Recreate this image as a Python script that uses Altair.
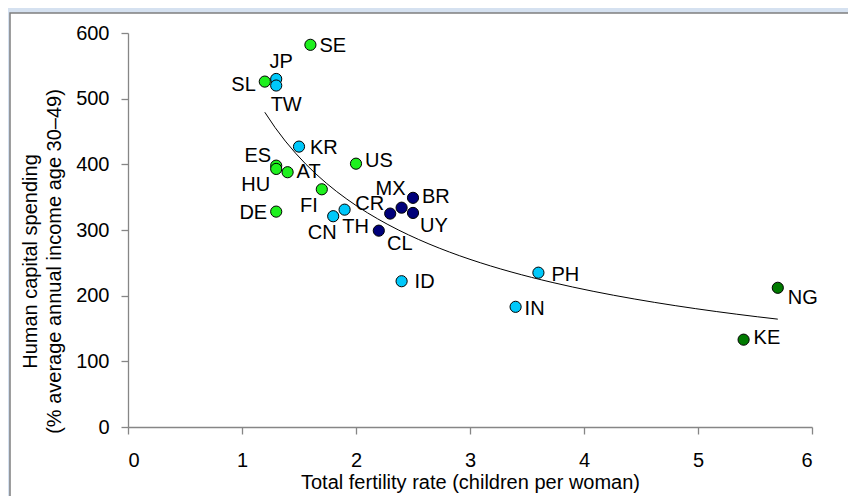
import altair as alt
import pandas as pd

# ---- data ----
codes = ["SE", "JP", "SL", "TW", "KR", "ES", "HU", "AT", "US", "FI", "DE",
         "CN", "TH", "CR", "MX", "BR", "UY", "CL", "ID", "PH", "IN", "NG", "KE"]
fertility = [1.6, 1.3, 1.2, 1.3, 1.5, 1.3, 1.3, 1.4, 2.0, 1.7, 1.3,
             1.8, 1.9, 2.3, 2.4, 2.5, 2.5, 2.2, 2.4, 3.6, 3.4, 5.7, 5.4]
spending = [582, 530, 526, 520, 427, 398, 393, 388, 401, 362, 328,
            321, 331, 325, 334, 349, 326, 299, 222, 235, 183, 212, 133]
groups = ["A", "B", "A", "B", "B", "A", "A", "A", "A", "A", "A",
          "B", "B", "C", "C", "C", "C", "C", "B", "B", "B", "D", "D"]

x_ticks = [0, 1, 2, 3, 4, 5, 6]
y_ticks = [0, 100, 200, 300, 400, 500, 600]

# ---- styling ----
group_domain = ["A", "B", "C", "D"]
group_colors = ["#1ef01e", "#00c8fa", "#00007a", "#007a00"]
FONT = "Liberation Sans"

# label placement: (align, dx, dy) in pixels
label_pos = {
    "SE": ("left", 9, 1), "JP": ("center", 5, -17), "SL": ("right", -9, 3),
    "TW": ("center", 10, 19), "KR": ("left", 11, 1), "ES": ("right", -5, -10),
    "HU": ("right", -6, 16), "AT": ("left", 9, 0), "US": ("left", 9, -3),
    "FI": ("right", -4, 17), "DE": ("right", -9, 1), "CN": ("center", -11, 17),
    "TH": ("center", 11, 17), "CR": ("right", -6, -10), "MX": ("center", -11, -19),
    "BR": ("left", 9, -1), "UY": ("left", 7, 13), "CL": ("center", 21, 13),
    "ID": ("left", 13, 1), "PH": ("left", 13, 2), "IN": ("left", 9, 2),
    "NG": ("left", 10, 10), "KE": ("left", 10, -2),
}

df = pd.DataFrame({"code": codes, "tfr": fertility, "hc": spending, "grp": groups})

W, H = 684, 394

xscale = alt.Scale(domain=[0, 6], nice=False, zero=True)
yscale = alt.Scale(domain=[0, 600], nice=False)

axis_common = dict(
    grid=False, domainColor="#868686", tickColor="#868686", tickSize=7,
    domainWidth=1.3, tickWidth=1.3,
    labelFont=FONT, labelFontSize=20, labelColor="#000000",
    titleFont=FONT, titleFontSize=20, titleFontWeight="normal", titleColor="#000000",
    zindex=1,
)

x_enc = alt.X("tfr:Q", scale=xscale,
              axis=alt.Axis(values=x_ticks, labelPadding=16, titlePadding=2,
                            title="Total fertility rate (children per woman)",
                            **axis_common))
y_enc = alt.Y("hc:Q", scale=yscale,
              axis=alt.Axis(values=y_ticks, labelPadding=12,
                            title=["Human capital spending",
                                   "(% average annual income age 30–49)"],
                            titleAngle=-90, titleAlign="center", titleBaseline="middle",
                            titleX=-98, titleY=228, titleLineHeight=24,
                            **axis_common))

base = alt.Chart(df)

frame = base.mark_rect(fill="white", stroke="#7f7f7f", strokeWidth=1.5).encode(
    x=alt.value(-118), x2=alt.value(W + 60), y=alt.value(-20), y2=alt.value(H + 110)
).transform_filter(alt.datum.code == "SE")

trend = base.transform_regression("tfr", "hc", method="pow").mark_line(
    color="black", strokeWidth=1
).encode(x=x_enc, y=y_enc)

points = base.mark_point(filled=True, shape="circle", size=125, stroke="black",
                         strokeWidth=1, opacity=1).encode(
    x=x_enc, y=y_enc,
    fill=alt.Fill("grp:N", scale=alt.Scale(domain=group_domain, range=group_colors),
                  legend=None),
)

label_layers = []
for c in codes:
    align, dx, dy = label_pos[c]
    label_layers.append(
        base.transform_filter(alt.datum.code == c).mark_text(
            align=align, baseline="middle", dx=dx, dy=dy, font=FONT, fontSize=20,
            color="black"
        ).encode(x=x_enc, y=y_enc, text="code:N")
    )

chart = alt.layer(frame, trend, points, *label_layers).properties(
    width=W, height=H,
    autosize=alt.AutoSizeParams(type="none"),
    padding={"left": 120, "top": 25, "right": 36, "bottom": 69},
    background="#d5e1f0",
).configure_view(stroke=None)

chart.save("out.html", embed_options={"renderer": "svg", "actions": False})
